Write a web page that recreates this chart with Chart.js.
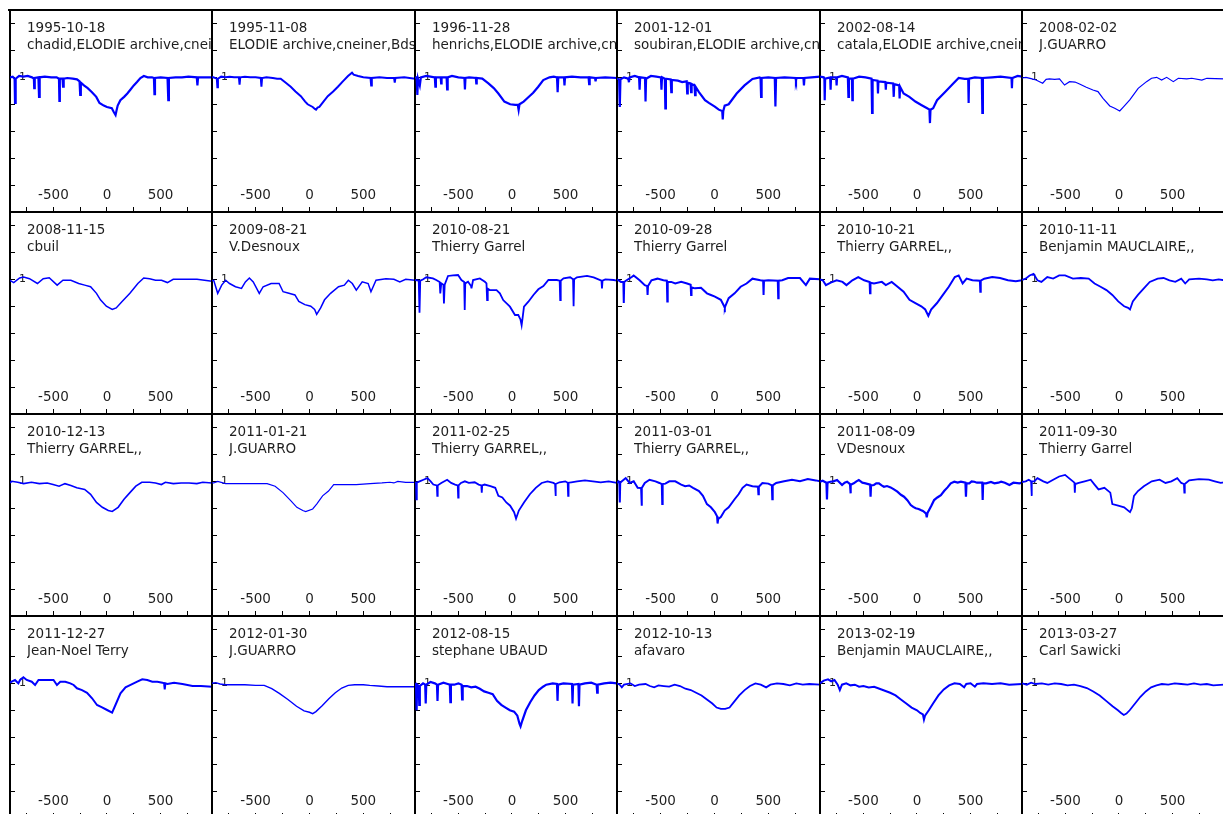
<!DOCTYPE html>
<html>
<head>
<meta charset="utf-8">
<script src="https://cdn.jsdelivr.net/npm/chart.js@4.4.1/dist/chart.umd.min.js"></script>
<style>
html, body { margin: 0; padding: 0; background: #fff; overflow: hidden; }
#grid { position: relative; width: 1223px; height: 814px; }
.cell { position: absolute; }
.label { position: absolute; overflow: hidden; white-space: nowrap; font-family: "DejaVu Sans", sans-serif; font-size: 13.5px; line-height: 17px; color: #1e1e1e; }
#topLine { position: absolute; left: 8px; top: 9px; width: 1216px; height: 2px; background: #000; }
</style>
</head>
<body>
<div id="grid"><div id="topLine"></div></div>
<script>
//dates and observers of every panel, row by row
const dates = ["1995-10-18", "1995-11-08", "1996-11-28", "2001-12-01", "2002-08-14", "2008-02-02",
    "2008-11-15", "2009-08-21", "2010-08-21", "2010-09-28", "2010-10-21", "2010-11-11",
    "2010-12-13", "2011-01-21", "2011-02-25", "2011-03-01", "2011-08-09", "2011-09-30",
    "2011-12-27", "2012-01-30", "2012-08-15", "2012-10-13", "2013-02-19", "2013-03-27"];
const observers = ["chadid,ELODIE archive,cneiner", "ELODIE archive,cneiner,Bds", "henrichs,ELODIE archive,cneiner", "soubiran,ELODIE archive,cneiner", "catala,ELODIE archive,cneiner", "J.GUARRO",
    "cbuil", "V.Desnoux", "Thierry Garrel", "Thierry Garrel", "Thierry GARREL,,", "Benjamin MAUCLAIRE,,",
    "Thierry GARREL,,", "J.GUARRO", "Thierry GARREL,,", "Thierry GARREL,,", "VDesnoux", "Thierry Garrel",
    "Jean-Noel Terry", "J.GUARRO", "stephane UBAUD", "afavaro", "Benjamin MAUCLAIRE,,", "Carl Sawicki"];

//axis ranges and ticks (velocity km/s, relative flux)
const velRange = [-905, 980];
const velStep = 250;
const velLabelStep = 500;
const fluxRange = [0, 1.5];
const fluxStep = 0.2;
const fluxLabels = [1];

//spectra: [velocity, flux] pairs
const sp01 = [[-905,1.0],[-880,1.005],[-862,0.99],[-858,0.81],[-852,0.99],[-820,1.01],[-780,1.005],[-740,1.01],[-700,1.0],[-682,0.99],[-679,0.92],[-674,0.995],[-640,1.0],[-634,0.855],[-628,1.0],[-580,1.005],[-520,1.0],[-470,1.0],[-448,0.99],[-444,0.825],[-440,0.99],[-415,0.99],[-410,0.93],[-404,0.99],[-370,0.995],[-320,0.99],[-280,0.985],[-256,0.97],[-250,0.87],[-244,0.96],[-215,0.94],[-180,0.92],[-140,0.89],[-100,0.855],[-70,0.81],[-30,0.79],[0,0.78],[45,0.77],[62,0.745],[80,0.72],[88,0.75],[100,0.79],[125,0.83],[160,0.855],[190,0.88],[220,0.91],[250,0.94],[280,0.965],[312,0.995],[344,1.01],[380,1.0],[420,1.0],[438,0.995],[443,0.876],[448,0.995],[500,1.0],[565,0.995],[572,0.83],[578,0.995],[640,1.0],[700,1.0],[760,1.005],[838,1.0],[844,0.94],[850,1.0],[900,1.0],[980,1.0]];
const sp02 = [[-905,1.0],[-893,1.0],[-860,0.99],[-855,0.926],[-850,0.99],[-820,1.005],[-780,1.0],[-740,1.005],[-700,1.0],[-655,1.0],[-649,0.945],[-643,1.0],[-600,1.005],[-550,1.0],[-500,1.0],[-452,0.995],[-446,0.93],[-440,0.995],[-400,1.0],[-340,0.995],[-300,0.99],[-267,0.99],[-220,0.96],[-174,0.93],[-130,0.895],[-80,0.86],[-40,0.82],[-17,0.80],[30,0.78],[50,0.765],[61,0.76],[75,0.775],[92,0.78],[130,0.82],[170,0.86],[220,0.895],[264,0.93],[310,0.97],[358,1.01],[395,1.035],[410,1.02],[452,1.01],[500,1.0],[567,0.995],[573,0.94],[579,0.995],[650,1.0],[720,0.995],[786,0.995],[792,0.96],[798,0.995],[880,1.0],[980,0.99]];
const sp03 = [[-905,0.995],[-890,1.0],[-883,0.87],[-877,0.99],[-860,0.94],[-850,1.0],[-800,1.01],[-760,1.005],[-720,1.0],[-715,0.93],[-710,1.0],[-665,1.0],[-661,0.955],[-657,1.0],[-610,1.0],[-605,0.91],[-600,1.0],[-560,1.01],[-500,1.0],[-444,0.995],[-439,0.91],[-434,0.995],[-400,1.0],[-337,0.995],[-333,0.955],[-329,0.995],[-277,0.99],[-220,0.955],[-170,0.92],[-127,0.88],[-71,0.82],[-17,0.80],[30,0.795],[54,0.795],[62,0.757],[70,0.80],[109,0.82],[150,0.85],[198,0.885],[245,0.93],[292,0.98],[350,1.0],[390,1.005],[420,1.0],[426,0.89],[432,1.0],[485,1.0],[490,0.94],[495,1.0],[560,1.005],[640,1.0],[715,1.0],[720,0.95],[725,1.0],[775,0.995],[780,0.97],[785,0.995],[870,1.0],[980,0.995]];
const sp04 = [[-905,0.99],[-885,0.985],[-879,0.78],[-873,0.985],[-840,1.0],[-800,0.99],[-794,0.964],[-788,1.0],[-740,1.01],[-700,1.0],[-695,0.908],[-690,1.0],[-645,0.995],[-640,0.82],[-635,0.99],[-590,1.01],[-540,1.005],[-497,1.0],[-492,0.908],[-487,1.0],[-461,0.99],[-456,0.77],[-451,0.99],[-406,0.985],[-401,0.89],[-396,0.98],[-340,0.975],[-300,0.965],[-258,0.97],[-253,0.88],[-248,0.96],[-222,0.955],[-217,0.89],[-212,0.95],[-185,0.94],[-180,0.867],[-175,0.93],[-144,0.89],[-88,0.83],[-52,0.81],[3,0.783],[40,0.76],[72,0.75],[77,0.687],[82,0.75],[95,0.79],[132,0.80],[206,0.88],[279,0.94],[353,0.988],[420,1.0],[428,0.995],[433,0.855],[438,0.995],[500,1.0],[560,0.995],[566,0.783],[572,0.995],[650,1.0],[752,0.995],[757,0.976],[762,0.995],[826,0.995],[831,0.94],[836,0.995],[900,1.0],[980,1.005]];
const sp05 = [[-905,1.005],[-870,1.0],[-864,0.99],[-861,0.83],[-857,0.99],[-810,1.0],[-806,0.908],[-802,1.0],[-754,1.0],[-750,0.94],[-746,1.0],[-700,1.01],[-645,1.0],[-640,0.855],[-635,0.99],[-607,0.99],[-603,0.83],[-599,0.99],[-540,1.005],[-480,1.0],[-424,0.99],[-419,0.735],[-414,0.98],[-368,0.975],[-364,0.88],[-360,0.97],[-295,0.965],[-291,0.908],[-287,0.96],[-222,0.955],[-217,0.855],[-212,0.95],[-166,0.94],[-162,0.843],[-158,0.93],[-125,0.88],[-71,0.855],[-15,0.82],[40,0.795],[95,0.77],[116,0.76],[121,0.66],[126,0.76],[151,0.77],[187,0.83],[260,0.89],[334,0.95],[389,0.995],[445,0.988],[478,0.99],[482,0.81],[486,0.99],[540,1.0],[605,0.995],[610,0.735],[615,0.995],[700,1.0],[780,1.005],[882,0.995],[886,0.92],[890,0.995],[940,1.01],[980,1.005]];
const sp06 = [[-905,0.995],[-868,1.0],[-820,0.99],[-774,0.98],[-712,0.956],[-680,0.985],[-649,0.988],[-600,0.985],[-555,0.988],[-508,0.943],[-461,0.968],[-410,0.965],[-368,0.95],[-305,0.926],[-243,0.906],[-196,0.894],[-149,0.844],[-86,0.787],[-40,0.77],[7,0.75],[38,0.777],[101,0.832],[179,0.918],[257,0.968],[304,0.993],[351,1.0],[398,0.98],[445,1.0],[507,0.968],[554,0.993],[632,0.988],[679,0.993],[773,0.98],[820,0.993],[980,0.988]];
const sp07 = [[-905,0.993],[-870,0.976],[-815,1.01],[-778,1.017],[-723,1.005],[-649,0.969],[-595,1.005],[-539,1.012],[-465,0.957],[-411,0.993],[-337,0.993],[-264,0.969],[-208,0.957],[-153,0.945],[-98,0.896],[-61,0.848],[-6,0.80],[49,0.776],[86,0.788],[141,0.836],[214,0.896],[288,0.969],[343,1.01],[398,1.005],[453,0.993],[509,0.993],[564,0.976],[618,1.0],[729,1.0],[840,1.0],[980,0.986]];
const sp08 = [[-905,0.99],[-889,0.993],[-852,0.896],[-815,0.957],[-778,0.993],[-742,0.969],[-687,0.945],[-631,0.933],[-595,0.981],[-558,1.01],[-522,0.981],[-466,0.896],[-430,0.945],[-356,0.969],[-282,0.969],[-245,0.908],[-191,0.896],[-135,0.884],[-99,0.836],[-43,0.812],[12,0.80],[48,0.776],[67,0.74],[104,0.788],[140,0.848],[196,0.896],[270,0.945],[324,0.957],[361,0.993],[398,0.969],[435,0.92],[490,0.981],[545,0.969],[571,0.908],[618,0.993],[710,1.005],[784,1.0],[839,0.981],[894,1.0],[980,0.993]];
const sp09 = [[-905,0.995],[-870,0.99],[-863,0.752],[-856,0.99],[-832,0.999],[-800,1.015],[-738,1.007],[-707,0.995],[-675,0.98],[-669,0.896],[-660,0.97],[-640,0.96],[-635,0.82],[-628,0.96],[-597,1.025],[-550,1.03],[-503,1.032],[-472,0.995],[-446,0.98],[-441,0.772],[-436,0.97],[-410,0.982],[-382,0.95],[-378,0.933],[-363,0.995],[-300,1.007],[-253,0.982],[-238,0.97],[-232,0.846],[-226,0.93],[-207,0.92],[-144,0.92],[-113,0.896],[-82,0.846],[-19,0.797],[28,0.735],[59,0.735],[80,0.70],[90,0.66],[100,0.72],[112,0.797],[153,0.834],[200,0.884],[246,0.926],[293,0.95],[340,0.995],[418,0.995],[445,0.99],[450,0.846],[455,0.99],[481,1.007],[543,1.015],[570,1.0],[575,0.80],[580,1.0],[606,1.015],[700,1.025],[762,1.015],[835,0.99],[840,0.933],[845,0.99],[871,0.999],[950,0.995],[980,0.99]];
const sp10 = [[-905,1.0],[-868,0.981],[-846,0.98],[-842,0.824],[-838,0.98],[-816,0.993],[-768,1.017],[-750,1.029],[-695,0.993],[-647,0.957],[-625,0.95],[-621,0.884],[-617,0.95],[-585,0.993],[-529,1.005],[-474,0.993],[-442,0.99],[-438,0.836],[-434,0.98],[-401,0.981],[-364,0.969],[-309,0.981],[-254,0.969],[-221,0.96],[-217,0.884],[-213,0.94],[-180,0.933],[-125,0.937],[-70,0.896],[-33,0.884],[4,0.872],[59,0.848],[90,0.80],[96,0.788],[100,0.80],[132,0.86],[187,0.896],[243,0.945],[298,0.969],[353,1.005],[426,0.993],[452,0.99],[456,0.884],[460,0.99],[500,0.993],[588,0.99],[592,0.86],[596,0.99],[629,0.993],[684,1.01],[794,1.01],[849,0.957],[886,1.005],[980,1.0]];
const sp11 = [[-905,1.0],[-879,0.993],[-850,0.957],[-805,0.976],[-750,0.993],[-695,0.981],[-658,0.957],[-603,0.993],[-548,1.017],[-493,0.993],[-442,0.98],[-438,0.896],[-434,0.975],[-401,0.969],[-328,0.981],[-291,0.957],[-236,0.981],[-181,0.945],[-125,0.908],[-70,0.848],[-15,0.824],[40,0.80],[77,0.776],[106,0.728],[132,0.776],[187,0.824],[242,0.884],[297,0.945],[353,1.017],[389,1.029],[426,0.969],[463,1.005],[518,0.993],[587,0.99],[591,0.908],[595,0.99],[628,1.005],[702,1.017],[775,1.01],[849,0.993],[922,0.986],[980,0.993]];
const sp12 = [[-905,0.995],[-871,1.005],[-834,1.029],[-797,1.041],[-761,0.993],[-724,0.981],[-669,1.017],[-614,1.005],[-558,1.029],[-503,1.029],[-430,1.005],[-356,1.01],[-283,1.005],[-228,0.969],[-172,0.945],[-117,0.92],[-62,0.884],[-7,0.836],[48,0.80],[85,0.788],[103,0.776],[129,0.836],[177,0.884],[232,0.933],[287,0.981],[361,1.005],[416,1.01],[471,0.993],[526,0.981],[581,1.005],[618,0.969],[655,1.0],[747,1.005],[820,1.0],[875,0.993],[930,1.0],[980,0.993]];
const sp13 = [[-905,0.988],[-889,1.0],[-833,0.993],[-778,0.983],[-705,0.993],[-631,0.983],[-558,0.988],[-503,0.976],[-447,0.964],[-392,0.983],[-337,0.969],[-282,0.952],[-208,0.94],[-153,0.904],[-98,0.843],[-43,0.807],[12,0.783],[49,0.776],[104,0.807],[159,0.867],[214,0.916],[269,0.964],[325,0.993],[398,0.993],[453,0.988],[508,0.976],[545,0.993],[619,0.983],[692,0.988],[766,0.988],[839,0.983],[894,0.993],[980,0.988]];
const sp14 = [[-905,0.988],[-889,0.988],[-852,1.0],[-779,0.983],[-687,0.983],[-613,0.983],[-503,0.983],[-393,0.983],[-319,0.964],[-246,0.916],[-172,0.855],[-117,0.807],[-62,0.783],[-35,0.776],[30,0.795],[67,0.831],[122,0.892],[177,0.928],[225,0.976],[305,0.976],[434,0.976],[563,0.983],[673,0.988],[747,0.993],[784,0.988],[820,1.0],[894,0.993],[980,0.993]];
const sp15 = [[-905,0.993],[-896,0.99],[-892,0.867],[-888,0.99],[-862,1.0],[-826,1.012],[-789,1.024],[-759,1.0],[-734,0.976],[-701,0.97],[-697,0.892],[-693,0.97],[-660,0.988],[-605,1.012],[-568,0.988],[-531,0.976],[-506,0.97],[-502,0.88],[-498,0.97],[-476,0.988],[-440,1.0],[-403,0.988],[-348,0.993],[-311,0.976],[-286,0.97],[-282,0.916],[-278,0.97],[-256,0.976],[-201,0.964],[-156,0.952],[-127,0.892],[-90,0.88],[-53,0.843],[-17,0.819],[20,0.771],[38,0.723],[64,0.783],[112,0.843],[167,0.904],[222,0.952],[277,0.988],[332,1.0],[387,0.988],[402,0.98],[406,0.892],[410,0.98],[443,0.993],[498,1.0],[520,0.99],[524,0.892],[528,0.99],[553,0.993],[608,1.0],[681,1.007],[755,1.0],[828,0.993],[902,1.0],[980,0.988]];
const sp16 = [[-905,0.988],[-890,1.0],[-883,0.99],[-879,0.843],[-875,0.99],[-860,1.0],[-824,1.024],[-787,0.988],[-750,1.0],[-713,0.952],[-681,0.95],[-677,0.819],[-673,0.95],[-647,0.988],[-603,1.012],[-548,1.0],[-511,0.988],[-489,0.98],[-485,0.831],[-481,0.98],[-456,0.983],[-419,1.0],[-364,1.0],[-309,0.976],[-272,0.964],[-235,0.969],[-199,0.952],[-144,0.928],[-107,0.892],[-70,0.831],[-33,0.807],[4,0.771],[24,0.74],[29,0.687],[35,0.72],[59,0.735],[95,0.783],[132,0.807],[187,0.867],[224,0.904],[261,0.952],[298,0.976],[353,0.964],[404,0.96],[408,0.904],[412,0.96],[445,0.988],[500,0.983],[533,0.97],[537,0.867],[541,0.97],[573,0.988],[647,1.0],[720,1.012],[794,1.0],[867,1.017],[941,1.007],[980,1.0]];
const sp17 = [[-905,0.997],[-880,1.005],[-845,0.99],[-840,0.866],[-835,0.99],[-808,0.997],[-780,1.0],[-746,1.01],[-720,0.99],[-699,0.973],[-675,0.99],[-652,0.997],[-625,0.98],[-621,0.911],[-617,0.975],[-590,0.985],[-565,1.0],[-543,1.01],[-510,0.99],[-480,0.985],[-437,0.975],[-433,0.886],[-429,0.97],[-402,0.973],[-380,0.985],[-355,0.985],[-330,0.97],[-308,0.96],[-280,0.965],[-246,0.955],[-215,0.94],[-183,0.923],[-150,0.9],[-121,0.886],[-90,0.86],[-58,0.824],[-35,0.81],[-12,0.80],[15,0.795],[35,0.787],[55,0.78],[66,0.774],[85,0.76],[91,0.733],[98,0.765],[113,0.787],[135,0.82],[160,0.861],[190,0.88],[223,0.898],[255,0.93],[285,0.955],[315,0.985],[348,0.997],[380,0.99],[410,0.997],[452,0.99],[457,0.886],[462,0.985],[488,0.985],[510,1.0],[535,0.997],[560,0.99],[609,0.99],[613,0.861],[617,0.985],[645,0.985],[690,0.995],[723,0.985],[760,0.99],[785,0.997],[820,0.99],[863,0.973],[900,0.99],[957,0.985],[980,0.99]];
const sp18 = [[-905,0.995],[-871,1.0],[-842,1.012],[-820,1.0],[-816,0.892],[-812,1.0],[-790,1.0],[-761,1.024],[-706,1.0],[-669,0.988],[-614,1.012],[-558,1.036],[-503,1.048],[-467,1.024],[-430,1.0],[-416,0.99],[-412,0.916],[-408,0.98],[-375,0.988],[-320,1.0],[-264,1.012],[-228,0.976],[-191,0.94],[-136,0.952],[-81,0.916],[-62,0.831],[-7,0.819],[48,0.807],[103,0.771],[120,0.80],[140,0.892],[177,0.928],[232,0.964],[306,1.0],[379,1.012],[434,0.988],[489,1.0],[544,1.024],[581,0.988],[606,0.98],[610,0.916],[614,0.98],[655,1.007],[747,1.017],[838,1.012],[894,1.0],[949,0.988],[980,0.993]];
const sp19 = [[-905,1.005],[-889,1.012],[-858,1.025],[-827,1.0],[-811,1.025],[-780,1.045],[-749,1.025],[-702,1.012],[-671,0.988],[-639,1.025],[-560,1.025],[-499,1.025],[-467,0.988],[-436,1.012],[-389,1.012],[-342,1.0],[-311,0.988],[-280,0.963],[-233,0.95],[-186,0.93],[-139,0.889],[-93,0.839],[-46,0.822],[1,0.802],[48,0.782],[79,0.839],[126,0.926],[173,0.97],[220,0.988],[282,1.012],[329,1.03],[376,1.025],[423,1.012],[470,1.012],[517,1.005],[533,1.0],[539,0.955],[545,1.0],[564,0.995],[626,1.005],[704,0.995],[798,0.98],[876,0.98],[980,0.975]];
const sp20 = [[-905,1.0],[-870,1.005],[-830,0.995],[-780,0.99],[-700,0.99],[-600,0.99],[-500,0.985],[-420,0.985],[-350,0.96],[-280,0.925],[-200,0.88],[-120,0.83],[-50,0.795],[0,0.785],[30,0.775],[60,0.79],[120,0.835],[180,0.885],[240,0.93],[300,0.965],[360,0.985],[420,0.99],[500,0.99],[560,0.985],[640,0.98],[720,0.975],[800,0.975],[880,0.975],[980,0.975]];
const sp21 = [[-905,1.0],[-895,0.99],[-890,0.80],[-885,0.99],[-870,0.98],[-865,0.84],[-860,0.98],[-830,1.0],[-810,0.99],[-805,0.85],[-800,0.99],[-760,1.01],[-720,1.0],[-700,0.99],[-695,0.87],[-690,0.99],[-640,1.005],[-600,0.995],[-580,0.99],[-575,0.86],[-570,0.99],[-540,0.99],[-500,1.0],[-470,0.99],[-465,0.88],[-460,0.98],[-420,0.98],[-380,0.97],[-340,0.975],[-300,0.96],[-260,0.94],[-220,0.93],[-180,0.92],[-140,0.87],[-100,0.84],[-60,0.82],[-20,0.80],[20,0.79],[50,0.76],[70,0.70],[80,0.68],[95,0.72],[130,0.80],[170,0.86],[210,0.91],[250,0.95],[290,0.975],[320,0.99],[380,1.0],[420,0.995],[425,0.87],[430,0.99],[480,1.0],[560,0.995],[565,0.85],[570,0.99],[620,0.995],[625,0.83],[630,0.99],[680,1.0],[740,1.005],[790,0.99],[795,0.93],[800,0.99],[860,1.0],[920,1.005],[980,1.0]];
const sp22 = [[-905,1.0],[-880,0.99],[-860,0.97],[-840,0.99],[-780,1.0],[-740,0.98],[-700,0.99],[-640,0.995],[-600,0.98],[-560,0.97],[-520,0.985],[-470,0.98],[-420,0.975],[-370,0.99],[-320,0.98],[-270,0.96],[-220,0.95],[-170,0.93],[-120,0.91],[-70,0.88],[-20,0.85],[20,0.82],[60,0.81],[100,0.81],[140,0.82],[180,0.86],[230,0.91],[280,0.95],[330,0.98],[380,1.0],[430,0.99],[480,0.97],[520,0.99],[580,1.0],[640,0.995],[700,0.985],[760,1.0],[820,0.99],[880,0.995],[980,0.99]];
const sp23 = [[-905,1.0],[-870,1.02],[-830,1.03],[-800,1.015],[-770,1.025],[-740,0.99],[-720,0.95],[-700,0.99],[-660,1.0],[-620,0.985],[-580,0.99],[-540,0.975],[-500,0.98],[-450,0.97],[-400,0.975],[-350,0.96],[-300,0.945],[-250,0.93],[-200,0.91],[-150,0.88],[-100,0.85],[-50,0.82],[0,0.80],[30,0.78],[55,0.77],[65,0.73],[75,0.76],[110,0.80],[150,0.85],[200,0.91],[250,0.955],[300,0.985],[350,1.0],[400,0.995],[440,0.97],[460,0.995],[500,1.0],[540,0.975],[560,0.995],[620,1.0],[700,0.995],[780,1.0],[860,0.99],[980,0.995]];
const sp24 = [[-905,1.0],[-860,0.99],[-820,1.005],[-780,0.995],[-720,1.0],[-660,0.99],[-600,1.0],[-540,0.995],[-480,0.985],[-420,0.99],[-360,0.98],[-300,0.965],[-240,0.94],[-180,0.91],[-120,0.87],[-60,0.83],[-10,0.80],[20,0.78],[45,0.765],[70,0.775],[100,0.80],[150,0.85],[200,0.9],[250,0.94],[300,0.97],[350,0.985],[400,0.995],[460,0.99],[520,1.0],[580,0.995],[640,0.99],[700,1.0],[760,0.99],[820,0.995],[880,0.985],[980,0.99]];

const spectra = [sp01, sp02, sp03, sp04, sp05, sp06, sp07, sp08, sp09, sp10, sp11, sp12,
    sp13, sp14, sp15, sp16, sp17, sp18, sp19, sp20, sp21, sp22, sp23, sp24];

//line widths (style only): noisy echelle spectra look heavier
const lineWidths = [2.2, 2.0, 2.2, 2.2, 2.2, 1.2, 1.5, 1.5, 1.8, 2.0, 2.0, 1.8,
    1.6, 1.2, 1.8, 2.0, 2.2, 1.8, 2.0, 1.4, 2.2, 1.8, 2.0, 1.8];

const NCOLS = 6;
const grid = document.getElementById("grid");
//border positions of the cells
const colX = [];
for (let c = 0; c <= NCOLS; c++) colX.push(Math.round(10 + c * 202.4));
const rowY = [10, 212, 414, 616];
const CELL_H = 202;

const tickFont = { family: "DejaVu Sans", size: 13.5 };

spectra.forEach((data, i) => {
    const r = Math.floor(i / NCOLS);
    const c = i % NCOLS;
    const w = colX[c + 1] - colX[c];

    //canvas starts 2px left of the border so the axis line is fully drawn
    const box = document.createElement("div");
    box.className = "cell";
    box.style.left = (colX[c] - 2) + "px";
    box.style.top = rowY[r] + "px";
    const canvas = document.createElement("canvas");
    canvas.width = w + 2;
    canvas.height = CELL_H + 2;
    canvas.style.width = (w + 2) + "px";
    canvas.style.height = (CELL_H + 2) + "px";
    box.appendChild(canvas);
    grid.appendChild(box);

    new Chart(canvas, {
        type: "line",
        data: {
            datasets: [{
                data: data,
                borderColor: "#0000ff",
                borderWidth: lineWidths[i],
                pointRadius: 0,
                tension: 0,
                fill: false
            }]
        },
        options: {
            responsive: false,
            animation: false,
            events: [],
            layout: { padding: { left: 2, top: 0, right: 0, bottom: 2 } },
            plugins: { legend: { display: false }, tooltip: { enabled: false } },
            scales: {
                x: {
                    type: "linear",
                    min: velRange[0],
                    max: velRange[1],
                    //axis takes no room, labels sit inside the plot
                    afterFit: s => { s.height = 0; s.paddingLeft = 0; s.paddingRight = 0; },
                    border: { color: "#000", width: 2 },
                    grid: { drawOnChartArea: false, tickLength: -5, color: "#000", tickWidth: 1 },
                    ticks: {
                        stepSize: velStep, includeBounds: false, autoSkip: false,
                        maxRotation: 0, minRotation: 0, mirror: true, padding: 8,
                        color: "#1e1e1e", font: tickFont,
                        callback: v => (v % velLabelStep === 0 ? String(v) : "")
                    }
                },
                y: {
                    min: fluxRange[0],
                    max: fluxRange[1],
                    afterFit: s => { s.width = 0; s.paddingTop = 0; s.paddingBottom = 0; },
                    border: { color: "#000", width: 2 },
                    grid: { drawOnChartArea: false, tickLength: -5, color: "#000", tickWidth: 1 },
                    ticks: {
                        stepSize: fluxStep, includeBounds: false, mirror: true, padding: 9,
                        color: "#1e1e1e", font: { family: "DejaVu Sans", size: 11 },
                        callback: v => (fluxLabels.some(f => Math.abs(f - v) < 1e-6) ? String(Math.round(v)) : "")
                    }
                }
            }
        }
    });

    //date and observer, clipped at the right border of the cell
    const label = document.createElement("div");
    label.className = "label";
    label.style.left = (colX[c] + 17) + "px";
    label.style.top = (rowY[r] + 9) + "px";
    label.style.width = (w - 18) + "px";
    label.innerHTML = "<div>" + dates[i] + "</div><div>" + observers[i] + "</div>";
    grid.appendChild(label);
});
</script>
</body>
</html>
